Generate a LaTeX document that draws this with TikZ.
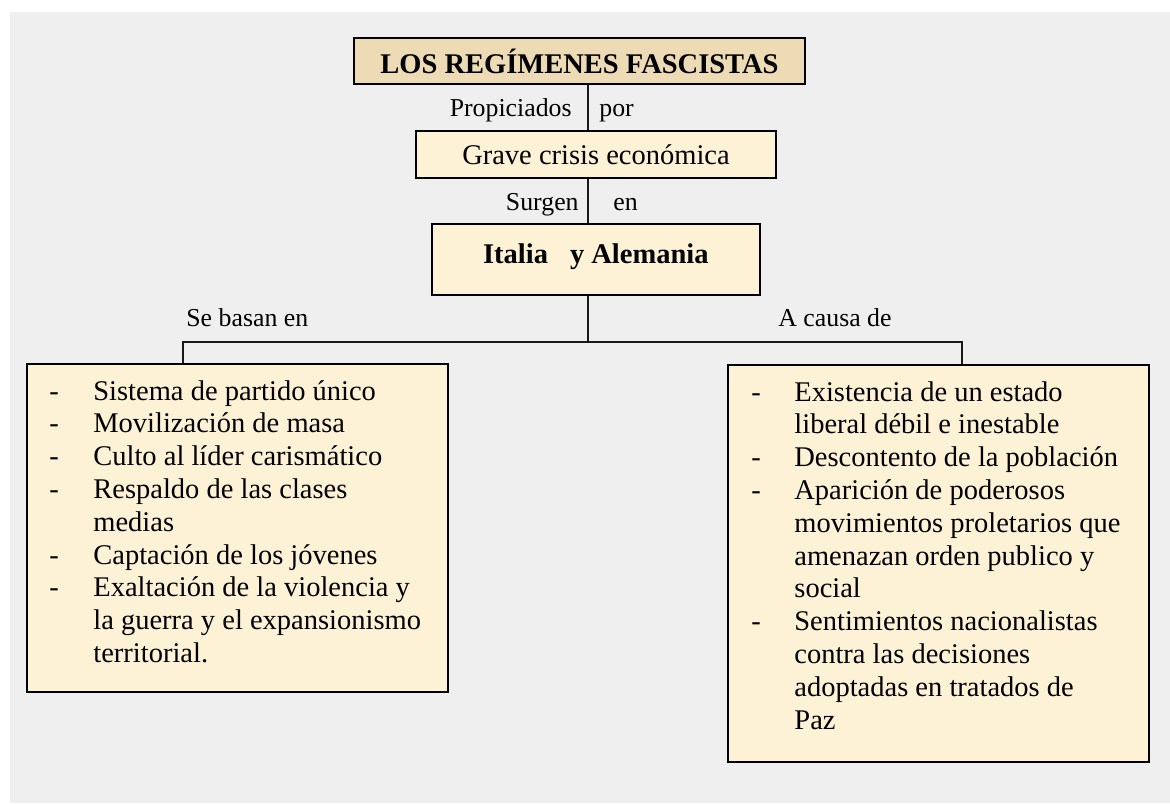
\documentclass[tikz,border=0pt]{standalone}
\usepackage{fontspec}
\setmainfont{Liberation Serif}
\usetikzlibrary{positioning}
\definecolor{paper}{RGB}{239,239,239}
\definecolor{parchment}{RGB}{236,219,181}
\definecolor{cream}{RGB}{253,241,214}
\definecolor{ink}{RGB}{25,25,25}
\newcommand{\boxfont}{\fontsize{14.25}{16.4}\selectfont}
\newcommand{\lblfont}{\fontsize{12.9}{15}\selectfont}
\tikzset{
  basic/.style    = {draw=black, line width=1pt, rectangle, inner sep=0pt,
                     font=\boxfont},
  root/.style     = {basic, fill=parchment, font=\boxfont\bfseries,
                     minimum width=225.5pt, minimum height=23.3pt},
  cause/.style    = {basic, fill=cream, minimum width=180pt,
                     minimum height=23.5pt},
  country/.style  = {basic, fill=cream, font=\boxfont\bfseries,
                     minimum width=164.15pt, minimum height=35.5pt, text depth=6pt},
  listbox/.style  = {basic, fill=cream, minimum width=210.65pt},
  listtext/.style = {inner sep=0pt, font=\boxfont, anchor=north west},
  lbl/.style      = {inner sep=0pt, font=\lblfont},
  link/.style     = {draw=ink, line width=0.85pt}
}

\begin{document}
\begin{tikzpicture}[x=0.5pt, y=-0.5pt]

\useasboundingbox (0,0) rectangle (1170,803);
\fill[paper] (10,12) rectangle (1170,803);

% main chain, top to bottom
\node[root]    (title)  at (579.5,61)    {LOS REGÍMENES FASCISTAS};
\node[cause]   (grave)  at (596,154.5)   {Grave crisis económica};
\node[country] (italia) at (595.85,259.5) {Italia\hspace{11pt}y Alemania};

% the two lists
\node[listbox, minimum height=164pt]    (bases)  at (237.35,528)    {};
\node[listbox, minimum height=198.35pt] (causes) at (938.35,563.35) {};

\node[listtext] (basestext) at ([xshift=11.65pt, yshift=-6.87pt]bases.north west) {%
  \begin{tabular}{@{}p{22pt}@{}l@{}}
  - & Sistema de partido único\\
  - & Movilización de masa\\
  - & Culto al líder carismático\\
  - & Respaldo de las clases\\
    & medias\\
  - & Captación de los jóvenes\\
  - & Exaltación de la violencia y\\
    & la guerra y el expansionismo\\
    & territorial.
  \end{tabular}};

\node[listtext] (causestext) at ([xshift=12.15pt, yshift=-6.87pt]causes.north west) {%
  \begin{tabular}{@{}p{21.5pt}@{}l@{}}
  - & Existencia de un estado\\
    & liberal débil e inestable\\
  - & Descontento de la población\\
  - & Aparición de poderosos\\
    & movimientos proletarios que\\
    & amenazan orden publico y\\
    & social\\
  - & Sentimientos nacionalistas\\
    & contra las decisiones\\
    & adoptadas en tratados de\\
    & Paz
  \end{tabular}};

% lines between the boxes
\coordinate (trunk)   at (588,0);
\coordinate (fork)    at (588,341.7);
\coordinate (lbranch) at (183,341.7);
\coordinate (rbranch) at (961.7,341.7);

\draw[link] (title.south -| trunk) -- (grave.north -| trunk);
\draw[link] (grave.south -| trunk) -- (italia.north -| trunk);
\draw[link] (italia.south -| trunk) -- (fork);
\draw[link] (bases.north -| lbranch) -- (lbranch) -- (rbranch) -- (causes.north -| rbranch);

% words along the lines
\begin{scope}[every node/.style={lbl}]
\node[anchor=base east] (propiciados) at (572,116.7) {Propiciados};
\node[anchor=base west] (por)         at (599,116.7) {por};
\node[anchor=base east] (surgen)      at (579,210)   {Surgen};
\node[anchor=base west] (en)          at (613,210)   {en};
\node[anchor=base west] (sebasan)     at (186,326.7) {Se basan en};
\node[anchor=base west] (acausa)      at (778,326)   {A causa de};
\end{scope}

\end{tikzpicture}
\end{document}
